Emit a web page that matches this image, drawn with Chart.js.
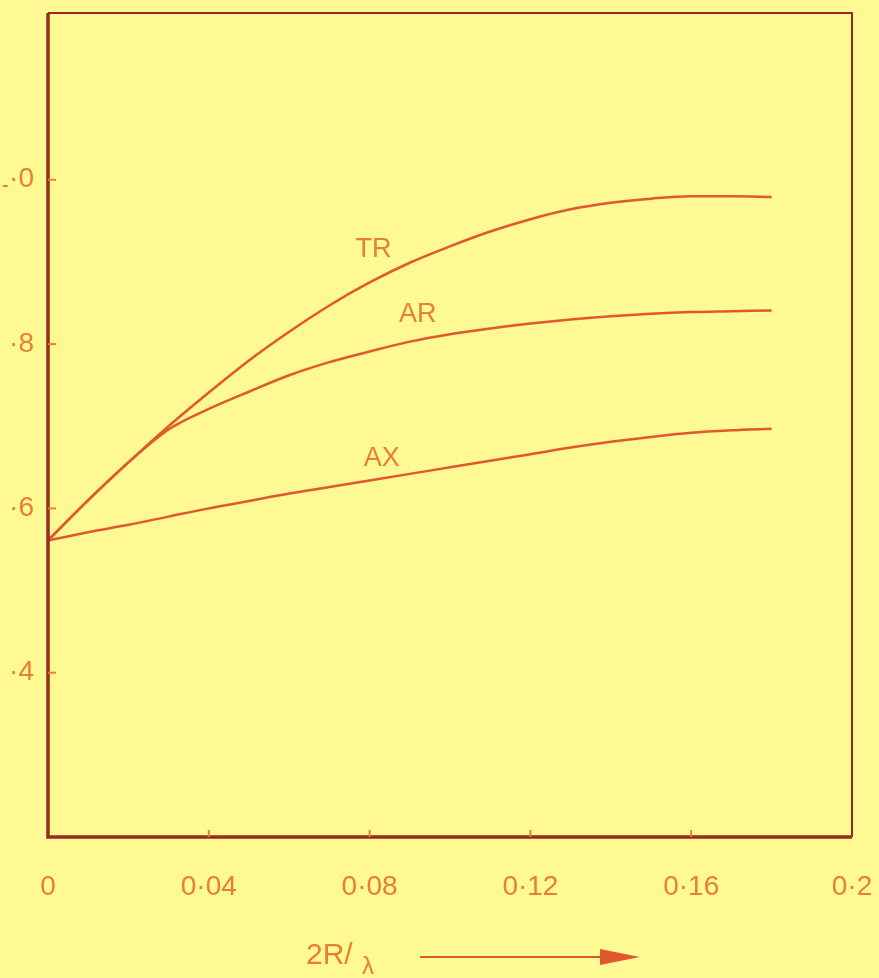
<!DOCTYPE html>
<html>
<head>
<meta charset="utf-8">
<script src="https://cdn.jsdelivr.net/npm/chart.js@4"></script>
<style>
  html, body { margin: 0; padding: 0; background: #fef993; }
  canvas { display: block; }
</style>
</head>
<body>
<canvas id="chart" width="879" height="978"></canvas>
<script>
// values
const xs = [0, 0.01, 0.02, 0.03, 0.04, 0.05, 0.06, 0.07, 0.08, 0.09, 0.10, 0.11, 0.12, 0.13, 0.14, 0.15, 0.16, 0.17, 0.18];
const tr = [0.561, 0.610, 0.656, 0.700, 0.741, 0.780, 0.815, 0.847, 0.875, 0.899, 0.919, 0.937, 0.952, 0.964, 0.972, 0.977, 0.980, 0.980, 0.979];
const ar = [0.561, 0.610, 0.656, 0.696, 0.721, 0.742, 0.762, 0.778, 0.791, 0.803, 0.812, 0.819, 0.825, 0.830, 0.834, 0.837, 0.839, 0.840, 0.841];
const ax = [0.561, 0.571, 0.580, 0.590, 0.600, 0.609, 0.618, 0.626, 0.634, 0.642, 0.650, 0.658, 0.666, 0.674, 0.681, 0.687, 0.692, 0.695, 0.697];

const seriesNames = ['TR', 'AR', 'AX'];

const xTickValues = [0, 0.04, 0.08, 0.12, 0.16, 0.2];
const xTickLabels = ['0', '0·04', '0·08', '0·12', '0·16', '0·2'];
const yTickValues = [0.4, 0.6, 0.8, 1.0];
const yTickLabels = ['·4', '·6', '·8', '1·0'];

const lineColor = '#e2582c';
const frameColor = '#952b1c';
const textColor = '#e8802e';
const font = 'Liberation Sans';

const toPoints = ys => xs.map((x, i) => ({ x: x, y: ys[i] }));

// curve labels placed in data units
const curveLabels = [
  { text: 'TR', x: 0.081, y: 0.915 },
  { text: 'AR', x: 0.092, y: 0.836 },
  { text: 'AX', x: 0.083, y: 0.661 }
];

const noPad = s => { s.paddingLeft = 0; s.paddingRight = 0; s.paddingTop = 0; s.paddingBottom = 0; };

const decor = {
  id: 'decor',
  beforeDraw(chart) {
    const c = chart.ctx;
    c.save();
    c.fillStyle = '#fef993';
    c.fillRect(0, 0, chart.width, chart.height);
    c.restore();
  },
  afterDraw(chart) {
    const c = chart.ctx;
    const a = chart.chartArea;
    const sx = chart.scales.x, sy = chart.scales.y;
    c.save();
    // frame
    c.strokeStyle = frameColor;
    c.lineWidth = 2;
    c.beginPath();
    c.moveTo(a.left, a.top);
    c.lineTo(a.right, a.top);
    c.lineTo(a.right, a.bottom);
    c.stroke();
    c.lineWidth = 3.5;
    c.beginPath();
    c.moveTo(a.left, a.top);
    c.lineTo(a.left, a.bottom);
    c.lineTo(a.right, a.bottom);
    c.stroke();
    // inward ticks
    c.strokeStyle = textColor;
    c.lineWidth = 2;
    yTickValues.forEach(v => {
      const y = sy.getPixelForValue(v);
      c.beginPath(); c.moveTo(a.left, y); c.lineTo(a.left + 8, y); c.stroke();
    });
    xTickValues.slice(1, -1).forEach(v => {
      const x = sx.getPixelForValue(v);
      c.beginPath(); c.moveTo(x, a.bottom); c.lineTo(x, a.bottom - 7); c.stroke();
    });
    // curve labels
    c.fillStyle = textColor;
    c.font = '27px "' + font + '"';
    c.textAlign = 'center';
    c.textBaseline = 'middle';
    curveLabels.forEach(l => {
      c.fillText(l.text, sx.getPixelForValue(l.x), sy.getPixelForValue(l.y));
    });
    // axis title 2R/λ with arrow
    c.font = '30px "' + font + '"';
    c.textAlign = 'left';
    c.textBaseline = 'alphabetic';
    c.fillText('2R/', 306, 964);
    c.font = '24px "' + font + '"';
    c.fillText('λ', 362, 974);
    c.strokeStyle = lineColor;
    c.lineWidth = 2;
    c.beginPath(); c.moveTo(420, 957); c.lineTo(610, 957); c.stroke();
    c.fillStyle = lineColor;
    c.beginPath();
    c.moveTo(600, 949); c.lineTo(640, 957); c.lineTo(600, 965); c.closePath();
    c.fill();
    c.restore();
  }
};

const ctx = document.getElementById('chart').getContext('2d');
new Chart(ctx, {
  type: 'line',
  data: {
    datasets: [tr, ar, ax].map((ys, i) => ({
      label: seriesNames[i],
      data: toPoints(ys),
      borderColor: lineColor,
      borderWidth: 2.5,
      pointRadius: 0,
      fill: false,
      cubicInterpolationMode: 'monotone'
    }))
  },
  options: {
    responsive: false,
    animation: false,
    layout: { padding: { left: 3, top: 13, right: 27, bottom: 0 } },
    plugins: { legend: { display: false }, tooltip: { enabled: false } },
    scales: {
      x: {
        type: 'linear',
        min: 0,
        max: 0.2,
        afterBuildTicks: s => { s.ticks = xTickValues.map(v => ({ value: v })); },
        afterFit: s => { s.height = 141; noPad(s); },
        grid: { display: false, drawTicks: false },
        border: { display: false },
        ticks: {
          autoSkip: false,
          maxRotation: 0,
          padding: 33,
          color: textColor,
          font: { family: font, size: 28 },
          callback: (v, i) => xTickLabels[i]
        }
      },
      y: {
        type: 'linear',
        min: 0.2,
        max: 1.203,
        afterBuildTicks: s => { s.ticks = yTickValues.map(v => ({ value: v })); },
        afterFit: s => { s.width = 45; noPad(s); },
        grid: { display: false, drawTicks: false },
        border: { display: false },
        ticks: {
          padding: 14,
          color: textColor,
          font: { family: font, size: 28 },
          callback: (v, i) => yTickLabels[i]
        }
      }
    }
  },
  plugins: [decor]
});
</script>
</body>
</html>
